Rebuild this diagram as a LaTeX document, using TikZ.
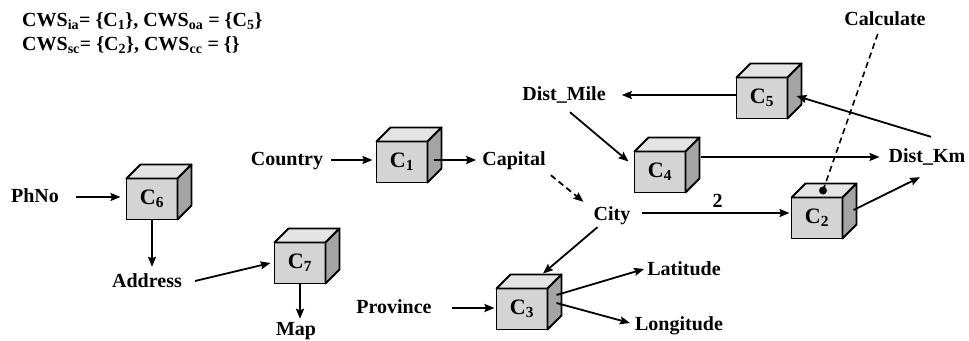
\documentclass[tikz,border=0pt]{standalone}
\usepackage{fontspec}
\setmainfont{Liberation Serif}
\usetikzlibrary{arrows.meta}

\definecolor{cubefrontc}{HTML}{D4D4D4}
\definecolor{cubetopc}{HTML}{E4E4E4}
\definecolor{cubesidec}{HTML}{A4A4A4}

\tikzset{
  lbl/.style={inner sep=0pt, text height=14pt, text depth=4pt,
              font=\bfseries\fontsize{20}{24}\selectfont},
  cubefront/.style={rectangle, draw, fill=cubefrontc, line width=1.8pt,
              minimum width=51pt, minimum height=41pt, inner sep=0pt,
              outer sep=0pt, line join=round,
              font=\bfseries\fontsize{22}{26}\selectfont},
  cubeline/.style={line width=1.8pt, line join=round},
  arr/.style={line width=1.8pt, -{Stealth[length=10pt,width=8pt,inset=1.5pt]}},
  dasharr/.style={arr, dash pattern=on 6pt off 4pt},
  dashline/.style={line width=1.6pt, dash pattern=on 6pt off 4pt},
}

% a service cube: front face as a named node, top and side faces behind it
\newcommand\cubebox[3]{%
  \node[cubefront] (#1) at (#2) {C\textsubscript{#3}};
  \filldraw[cubeline, fill=cubetopc] (#1.north west) -- ++(14pt,14pt)
    -- ([shift={(14pt,14pt)}]#1.north east) -- (#1.north east) -- cycle;
  \filldraw[cubeline, fill=cubesidec] (#1.north east) -- ++(14pt,14pt)
    -- ([shift={(14pt,14pt)}]#1.south east) -- (#1.south east) -- cycle;
}

\begin{document}
\begin{tikzpicture}[x=1pt, y=-1pt]
\useasboundingbox (0,0) rectangle (969,340);

% composition sets
\node[lbl, anchor=west, align=left, text height=, text depth=] (sets) at (22,33)
  {CWS\textsubscript{ia}= \{C\textsubscript{1}\}, CWS\textsubscript{oa} = \{C\textsubscript{5}\}\\[0pt]
   CWS\textsubscript{sc}= \{C\textsubscript{2}\}, CWS\textsubscript{cc} = \{\}};

% services
\cubebox{C6}{152,199}{6}
\cubebox{C7}{300,263}{7}
\cubebox{C1}{402,162}{1}
\cubebox{C4}{660,172}{4}
\cubebox{C5}{762,98}{5}
\cubebox{C2}{817,218}{2}
\cubebox{C3}{522,309}{3}

% data labels
\node[lbl] (phno)      at (35,197)  {PhNo};
\node[lbl] (address)   at (147,282) {Address};
\node[lbl] (map)       at (296,330) {Map};
\node[lbl] (country)   at (287,160) {Country};
\node[lbl] (capital)   at (514,160) {Capital};
\node[lbl] (city)      at (612,215) {City};
\node[lbl] (distmile)  at (564,95)  {Dist\_Mile};
\node[lbl] (distkm)    at (927,157) {Dist\_Km};
\node[lbl] (calc)      at (885,20)  {Calculate};
\node[lbl] (province)  at (394,308) {Province};
\node[lbl] (latitude)  at (684,270) {Latitude};
\node[lbl] (longitude) at (679,325) {Longitude};

% condition marker on C2
\node[circle, fill, inner sep=0pt, minimum size=8pt] (dot)
  at ([xshift=6pt,yshift=7pt]C2.north) {};

% data flow
\draw[arr] ([xshift=17pt]phno.east) -- ([xshift=-6pt]phno -| C6.west);
\draw[arr] (C6.south) -- ([yshift=6pt]C6.south |- address.north);
\draw[arr] ([xshift=13pt,yshift=1pt]address.east) -- ([xshift=-4pt]C7.west);
\draw[arr] (C7.south) -- ([yshift=2pt]C7.south |- map.north);
\draw[arr] ([xshift=8pt]country.east) -- ([xshift=-4pt]country -| C1.west);
\draw[arr] ([xshift=6pt]C1.east |- capital) -- ([xshift=-6pt]capital.west);
\draw[dasharr] ([xshift=5pt,yshift=-6pt]capital.south east)
  -- ([xshift=-10pt,yshift=4pt]city.north west);
\draw[arr] ([xshift=6pt,yshift=-8pt]distmile.south)
  -- ([xshift=-6pt,yshift=-10pt]C4.north west);
\draw[arr] ([xshift=15pt]distkm -| C4.east) -- ([xshift=-9pt]distkm.west);
\draw[arr] (C5.west |- distmile) -- ([xshift=16pt]distmile.east);
\draw[arr] ([xshift=4pt,yshift=11pt]distkm.north) -- ([xshift=9pt,yshift=2pt]C5.east);
\draw[arr] ([xshift=11pt,yshift=2pt]city.east) -- ([xshift=-2pt,yshift=2pt]city -| C2.west)
  node[lbl, midway, above=1pt, xshift=2pt] (lbltwo) {2};
\draw[arr] ([xshift=11pt,yshift=8pt]C2.east) -- ([xshift=-7pt,yshift=-11pt]distkm.south);
\draw[dashline] (dot.center) -- ([xshift=-7pt,yshift=-4pt]calc.south);
\draw[arr] ([xshift=4pt,yshift=-3pt]city.south west) -- ([xshift=21pt,yshift=15pt]C3.north);
\draw[arr] ([xshift=20pt]province.east) -- ([xshift=-2pt]province -| C3.west);
\draw[arr] ([xshift=9pt,yshift=14pt]C3.east) -- ([xshift=-3pt,yshift=1pt]latitude.west);
\draw[arr] ([xshift=9pt,yshift=6pt]C3.east) -- ([xshift=-5pt,yshift=2pt]longitude.west);

\end{tikzpicture}
\end{document}
